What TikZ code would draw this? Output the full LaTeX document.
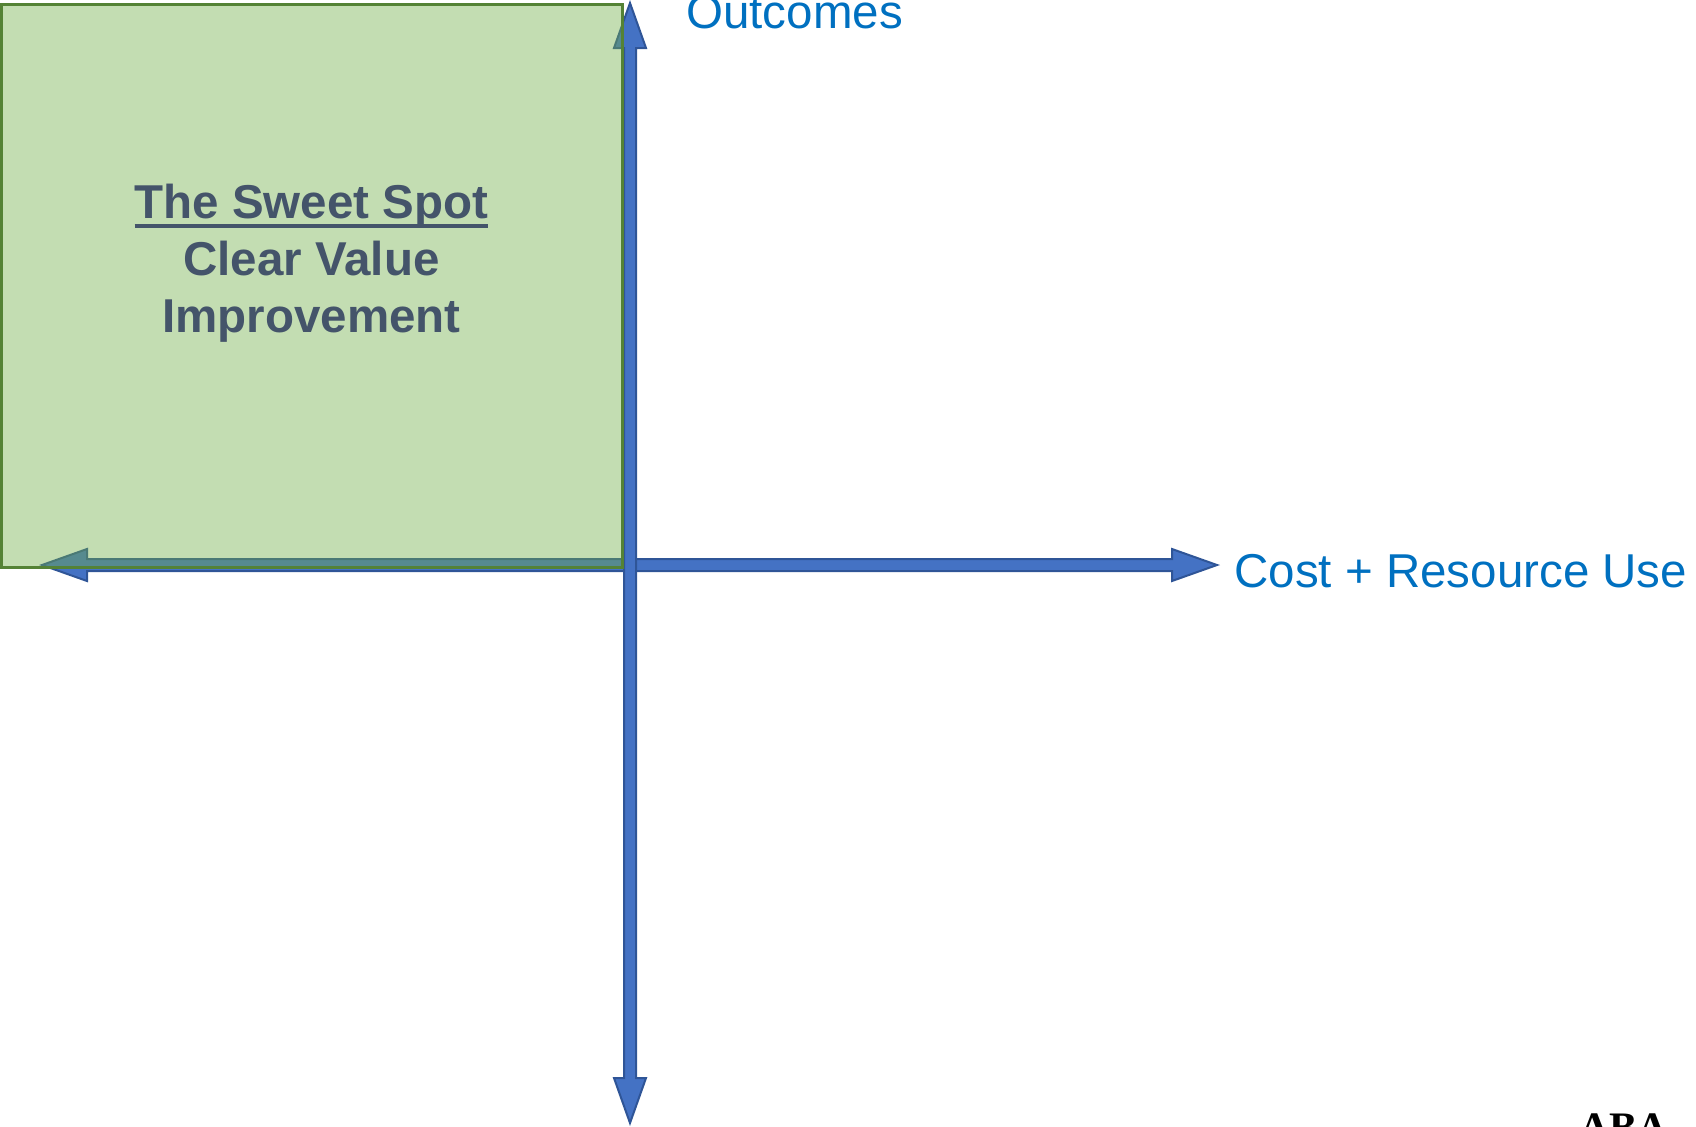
\documentclass[tikz,border=0pt]{standalone}
\usepackage{fontspec}
\setmainfont{Liberation Sans}
\newfontfamily\logofont{Liberation Serif}
\usetikzlibrary{
	calc,
	positioning,
}
\definecolor{axisblue}{HTML}{4472C4}
\definecolor{axisedge}{HTML}{2F5597}
\definecolor{labelblue}{HTML}{0070C0}
\definecolor{spotgreen}{HTML}{70AD47}
\definecolor{spotedge}{HTML}{548235}
\definecolor{spottext}{HTML}{44546A}
\newcommand\thickul[1]{\setbox0\hbox{#1}\rlap{\copy0}\rule[-5pt]{\wd0}{2pt}}
\tikzset{
	axis arrow/.style={
		fill=axisblue,
		draw=axisedge,
		line width=1pt,
		line join=miter,
	},
	sweet box/.style={
		fill=spotgreen,
		fill opacity=0.42,
		draw=spotedge,
		line width=1.5pt,
	},
	axis label/.style={
		anchor=base west,
		inner sep=0pt,
		text=labelblue,
		font=\fontsize{23.75}{28}\selectfont,
	},
	spot text/.style={
		anchor=base,
		inner sep=0pt,
		text=spottext,
		font=\fontsize{23.75}{28}\selectfont\bfseries,
	},
}
\begin{document}
\begin{tikzpicture}[x=0.5pt,y=-0.5pt]
\useasboundingbox (0,0) rectangle (1696,1126);

\coordinate (west) at (42,565);
\coordinate (east) at (1217,565);
\coordinate (north) at (630,3);
\coordinate (south) at (630,1123);

% horizontal axis
\draw[axis arrow]
(west) -- ($(west)+(45,-16)$) -- ($(west)+(45,-6)$)
-- ($(east)+(-45,-6)$) -- ($(east)+(-45,-16)$) -- (east)
-- ($(east)+(-45,16)$) -- ($(east)+(-45,6)$)
-- ($(west)+(45,6)$) -- ($(west)+(45,16)$) -- cycle
;

% vertical axis
\draw[axis arrow]
(north) -- ($(north)+(16,45)$) -- ($(north)+(6,45)$)
-- ($(south)+(6,-45)$) -- ($(south)+(16,-45)$) -- (south)
-- ($(south)+(-16,-45)$) -- ($(south)+(-6,-45)$)
-- ($(north)+(-6,45)$) -- ($(north)+(-16,45)$) -- cycle
;

% sweet spot quadrant
\draw[sweet box] (1.5,4.5) rectangle (622,567);

\node[spot text] (sweet) at (311.5,218) {\thickul{The Sweet Spot}};
\node[spot text] (clear) at (311.5,275) {Clear Value};
\node[spot text] (improve) at (311.5,332) {Improvement};

\node[axis label] (outcomes) at (686,28) {Outcomes};
\node[axis label] (cost) at (1234,587) {Cost + Resource Use};

\node[anchor=base west, inner sep=0pt, font=\logofont\bfseries\fontsize{21}{24}\selectfont] (logo) at (1579,1141) {ABA};

\end{tikzpicture}
\end{document}
